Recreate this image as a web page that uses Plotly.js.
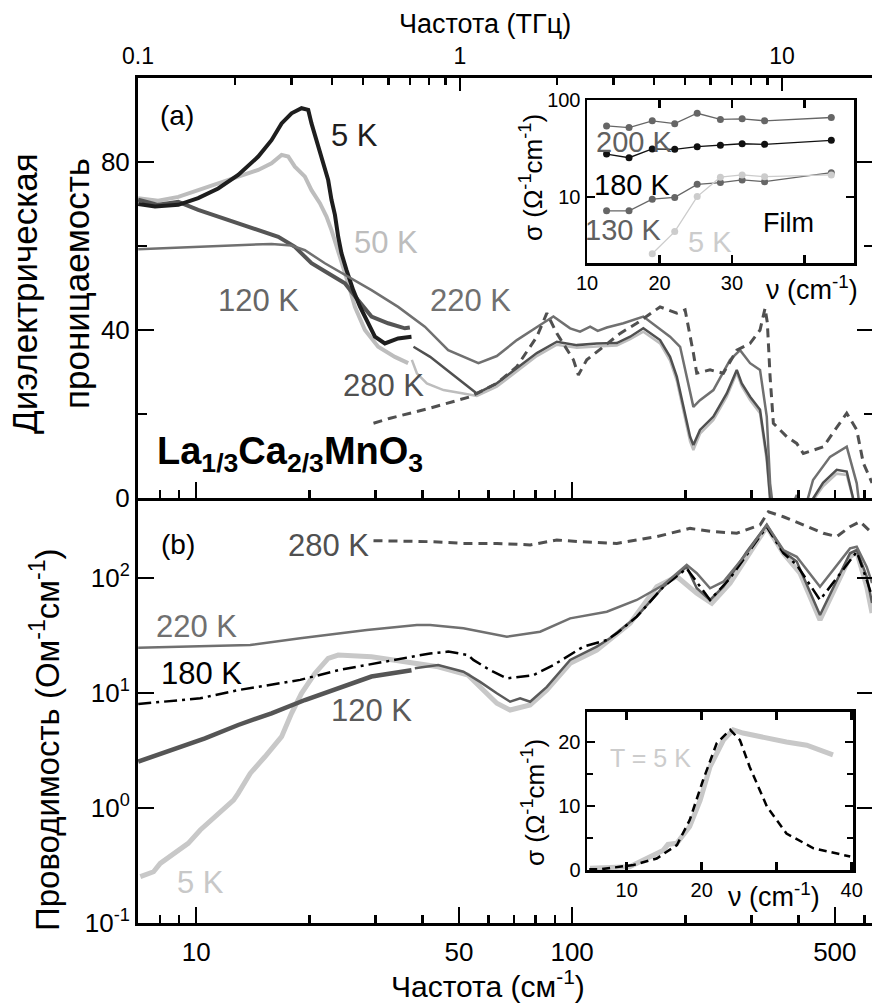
<!DOCTYPE html>
<html><head><meta charset="utf-8">
<script src="https://cdn.plot.ly/plotly-3.0.1.min.js"></script>
<style>html,body{margin:0;padding:0;overflow:hidden;background:#fff}</style>
</head><body><div id="chart" style="width:880px;height:1008px"></div>
<script>
// ---------- DATA ----------
// (a) dielectric permittivity, x in cm^-1
const eps5K_x = [7.01, 7.77, 8.96, 10.12, 11.44, 12.93, 14.62, 15.86, 16.87, 17.93, 19.06, 19.86, 20.26, 21.11, 21.77, 22.44, 22.90, 23.39, 23.86, 24.34, 25.10, 26.16, 27.25, 28.67, 29.88, 31.76, 34.45, 37.38];
const eps5K_y = [70.0, 69.4, 69.8, 71.4, 73.7, 76.9, 81.3, 85.2, 89.2, 91.6, 92.8, 92.4, 89.2, 83.6, 79.7, 75.7, 71.0, 67.4, 62.2, 58.3, 54.3, 49.5, 45.6, 41.6, 38.4, 36.8, 38.0, 38.4];
const eps50K_x = [7.01, 7.92, 8.96, 10.12, 11.44, 12.93, 14.62, 15.86, 16.87, 17.57, 18.30, 19.46, 20.26, 21.33, 22.21, 22.90, 23.86, 24.60, 25.37, 26.43, 28.10, 30.48, 33.77, 36.63];
const eps50K_y = [71.4, 70.8, 71.7, 73.3, 74.9, 76.5, 78.1, 79.7, 81.7, 81.3, 78.9, 76.5, 73.3, 70.2, 67.0, 63.8, 59.0, 55.1, 51.1, 45.5, 40.0, 36.0, 33.6, 32.1];
const eps120K_x = [7.01, 7.92, 8.96, 10.12, 11.44, 12.93, 14.62, 16.53, 18.30, 20.26, 22.44, 24.86, 26.97, 29.26, 32.40, 35.90, 37.01];
const eps120K_y = [71.0, 69.8, 70.5, 68.6, 67.0, 65.4, 63.8, 62.2, 59.8, 55.9, 53.5, 51.1, 47.1, 43.2, 41.6, 40.4, 40.6];
const eps220K_x = [7.01, 10.55, 12.93, 15.86, 17.93, 19.46, 21.99, 24.86, 29.26, 34.45, 40.57, 46.81, 51.39, 56.33, 63.05, 71.28, 82.21, 89.19, 98.79, 105.0, 111.7, 117.0, 123.7, 136.9, 154.7, 168.0, 182.2, 193.8, 201.8, 210.2, 218.9, 237.6, 263.2, 279.8, 297.5, 316.2, 329.5, 336.3, 343.1, 372.4, 395.9, 412.3, 437.5, 485.5, 537.8, 571.8, 583.4, 628];
const eps220K_y = [59.2, 59.8, 60.2, 60.5, 60.1, 59.0, 55.9, 53.1, 49.5, 45.5, 40.8, 35.2, 33.6, 32.1, 33.8, 37.6, 41.2, 43.2, 40.4, 39.6, 40.8, 39.8, 40.6, 41.6, 43.2, 40.8, 38.4, 36.0, 28.9, 21.7, 23.3, 25.7, 32.9, 35.2, 32.1, 30.5, 19.4, 3.5, -3, -5, 0.7, -4, 4.3, 9.8, 12.2, 3.5, -3, -4];
const epsLowIR_x = [37.84, 41.91, 46.44, 51.39, 55.78, 63.05, 71.28, 80.56, 91.06, 102.9, 116.3, 131.5, 142.7, 154.7, 171.4, 182.2, 189.9, 197.7, 206.0, 210.2, 218.9, 237.6, 257.9, 274.2, 282.7, 297.5, 316.2, 329.5, 336.3, 343.1, 404.0, 465.1, 505.8, 537.8, 565.9, 628];
const epsLowIR_y = [36.0, 33.6, 30.5, 27.3, 24.9, 27.3, 30.9, 34.5, 37.2, 36.4, 36.8, 36.9, 38.4, 40.4, 37.6, 33.6, 28.9, 21.7, 14.6, 12.6, 16.2, 19.4, 24.9, 30.5, 27.3, 24.1, 21.0, 9.8, 0, -4, -5, 3.6, 6.7, 6.3, -2, -4];
const epsLightIR_x = [37.47, 38.64, 41.07, 45.48, 51.39, 55.78, 63.05, 71.28, 80.56, 91.06, 102.9, 116.3, 131.5, 142.7, 154.7, 171.4, 182.2, 189.9, 197.7, 206.0, 210.2, 218.9, 237.6, 257.9, 274.2, 282.7, 297.5, 316.2, 329.5, 336.3, 343.1, 404.0, 465.1, 505.8, 537.8, 565.9, 628];
const epsLightIR_y = [32.9, 29.7, 27.3, 25.7, 24.9, 24.3, 26.5, 30.2, 33.8, 36.5, 35.8, 36.1, 36.3, 37.8, 39.6, 36.8, 32.7, 27.9, 20.6, 13.5, 11.4, 15.3, 18.6, 24.1, 29.8, 26.6, 23.3, 20.2, 8.8, -0.5, -4, -5, 2.8, 5.8, 5.5, -2, -4];
const eps280K_x = [29.62, 32.81, 41.91, 53.54, 63.05, 71.28, 80.56, 85.66, 91.06, 100.8, 103.9, 109.4, 121.1, 134.2, 148.6, 171.4, 189.9, 199.8, 210.2, 214.6, 232.8, 252.6, 274.2, 297.5, 316.2, 326.1, 330.7, 336.3, 343.1, 372.4, 395.9, 412.3, 466.0, 537.8, 571.8, 595.4, 628];
const eps280K_y = [17.8, 19.0, 21.4, 24.1, 27.3, 31.3, 38.4, 44.0, 39.2, 32.9, 29.3, 32.9, 36.0, 39.2, 41.6, 45.5, 44.0, 44.8, 34.5, 29.7, 30.5, 29.7, 35.2, 36.8, 40.0, 45.2, 41.7, 28.9, 17.8, 14.6, 13.0, 10.6, 12.2, 20.2, 16.2, 8.3, 3.6];

// (b) conductivity, Ohm^-1 cm^-1
const sig280K_x = [29.62, 41.91, 51.39, 63.05, 77.32, 91.06, 105.0, 131.5, 168.0, 206.0, 237.6, 274.2, 316.2, 332.8, 364.8, 412.3, 466.0, 505.8, 548.8, 583.4, 628];
const sig280K_y = [211, 207, 200, 200, 194, 214, 207, 200, 229, 270, 253, 245, 289, 377, 341, 289, 245, 229, 279, 309, 246];
const sig220K_x = [7.01, 10.25, 13.92, 18.91, 28.44, 38.64, 41.91, 51.39, 67.04, 82.21, 98.79, 123.7, 148.6, 174.9, 201.8, 214.6, 232.8, 252.6, 291.5, 329.5, 364.8, 395.9, 456.6, 548.8, 571.8, 607.9, 628];
const sig220K_y = [24.8, 25.3, 26.1, 29.9, 35.3, 39.0, 39.0, 36.5, 30.9, 34.1, 44.6, 50.9, 64.4, 86.9, 130, 110, 81.4, 92.9, 164, 289, 175, 153, 84.0, 181, 187, 125, 90.5];
const sig180K_x = [7.01, 10.25, 12.93, 18.91, 23.86, 35.90, 41.91, 46.81, 52.89, 54.6, 60.5, 67.04, 78.91, 89.19, 96.8, 107.2, 123.7, 131.5, 148.6, 174.9, 201.8, 232.8, 263.2, 297.5, 329.5, 364.8, 395.9, 456.6, 548.8, 571.8, 607.9, 628];
const sig180K_y = [8.02, 9.0, 10.6, 13.0, 15.8, 20.0, 22.1, 22.9, 21.4, 19.4, 15.8, 13.4, 14.3, 17.5, 20.7, 25.3, 28.9, 33.0, 46.1, 84.0, 121, 64.4, 99.4, 175, 279, 164, 130, 64.4, 143, 169, 96.1, 68.8];
const sig120K_x = [7.01, 8.60, 10.55, 12.93, 15.86, 19.46, 23.86, 29.26, 37.38];
const sig120K_y = [2.53, 3.19, 4.04, 5.27, 6.66, 8.69, 11.0, 13.9, 15.8];
const sig120IR_x = [38.16, 44.02, 51.39, 56.92, 63.05, 68.41, 72.74, 77.32, 85.66, 98.79, 116.3, 126.2, 148.6, 174.9, 201.8, 214.6, 232.8, 252.6, 291.5, 329.5, 364.8, 395.9, 456.6, 548.8, 571.8, 607.9, 628];
const sig120IR_y = [16.4, 17.5, 15.3, 12.5, 9.94, 8.40, 8.99, 8.40, 11.3, 19.4, 25.3, 29.9, 46.1, 84.0, 125, 81.4, 64.4, 84.0, 169, 289, 169, 139, 47.7, 164, 175, 103, 60.6];
const sig5K_x = [7.10, 7.70, 8.02, 8.70, 9.52, 10.25, 11.21, 12.57, 12.93, 13.92, 15.23, 16.87, 17.93, 19.06, 20.69, 22.44, 23.86, 29.26, 35.90, 44.02, 52.89, 63.05, 68.41, 77.32, 85.66, 98.79, 116.3, 142.7, 168.0, 189.9, 214.6, 235.3, 263.2, 297.5, 329.5, 364.8, 404.0, 456.6, 548.8, 571.8, 607.9, 628];
const sig5K_y = [0.253, 0.279, 0.330, 0.404, 0.493, 0.644, 0.840, 1.17, 1.34, 2.0, 2.79, 4.17, 6.66, 9.94, 14.8, 20.0, 21.4, 20.7, 18.7, 16.9, 14.3, 8.14, 7.11, 7.87, 10.6, 18.1, 23.6, 40.4, 84.0, 103, 73.6, 60.3, 89.9, 169, 279, 164, 110, 43.1, 153, 169, 84, 49.6];

// inset (a): film conductivity
const film_nu = [12.7, 15.8, 19.0, 22.1, 25.2, 28.4, 31.4, 34.5, 43.7];
const film200K = [54, 52, 61, 57, 73, 63, 64, 61, 66];
const film180K = [27.7, 25.4, 31.3, 31.0, 33.0, 34.1, 35.4, 34.9, 38.4];
const film130K = [7.2, 7.2, 9.5, 9.9, 13.5, 14.1, 15.0, 14.4, 17.8];
const film5K_nu = [19.0, 22.1, 25.2, 28.4, 31.4, 34.5, 43.7];
const film5K = [2.6, 4.4, 10.1, 16.0, 16.9, 16.2, 16.9];

// inset (b): T = 5 K conductivity and fit
const lin5K_nu = [5.1, 10.4, 14.9, 15.5, 16.7, 18.4, 19.8, 21.1, 22.9, 24.2, 25.5, 28.7, 31.3, 34.0, 35.8, 37.5];
const lin5K_s = [0.27, 0.52, 3.1, 4.0, 4.2, 6.8, 10.9, 16.1, 20.3, 21.9, 21.4, 20.6, 20.0, 19.5, 18.8, 18.0];
const fit_nu = [5.0, 6.4, 10.9, 14.0, 16.7, 18.4, 20.2, 22.0, 23.8, 25.1, 26.4, 28.7, 31.3, 34.9, 39.8];
const fit_s = [0.1, 0.1, 0.78, 1.8, 3.9, 7.8, 14.1, 19.8, 21.9, 20.3, 16.1, 9.9, 5.7, 3.4, 2.1];

// tick labels
const cmMajor = [10, 50, 100, 500];
const cmMajorText = ['10', '50', '100', '500'];
const cmMinor = [7, 8, 9, 20, 30, 40, 60, 70, 80, 90, 200, 300, 400, 600];
const cmMinorTop = [7, 8, 9, 20, 30, 40, 50, 60, 70, 80, 90, 200, 300, 400, 500, 600];
const thzMajor = [0.1, 1, 10];
const thzMajorText = ['0.1', '1', '10'];
const thzMinor = [0.2, 0.3, 0.4, 0.5, 0.6, 0.7, 0.8, 0.9, 2, 3, 4, 5, 6, 7, 8, 9];
const sigTicks = [0.1, 1, 10, 100];
const sigTickText = ['10<sup>-1</sup>', '10<sup>0</sup>', '10<sup>1</sup>', '10<sup>2</sup>'];
const inset1Ticks = [10, 20, 30];
const inset1Minor = [40];
const inset2Ticks = [10, 20, 40];
const inset2Minor = [30];

// ---------- LAYOUT HELPERS ----------
const W = 880, H = 1008, ML = 138, MR = 7, MT = 78, MB = 85;
const PW = W - ML - MR, PH = H - MT - MB;
const fx = p => (p - ML) / PW;
const fy = p => (MT + PH - p) / PH;
const SPLIT = fy(498);
const FONT = 'Liberation Sans, Arial, Helvetica, sans-serif';

const axBase = {showline: true, linecolor: '#000', linewidth: 3, ticks: 'inside', tickcolor: '#000',
  tickwidth: 2.5, showgrid: false, zeroline: false, tickfont: {size: 26, color: '#000', family: FONT}};

function L(x, y, xa, ya, color, width, dash, name) {
  return {x: x, y: y, xaxis: xa, yaxis: ya, mode: 'lines', name: name, hoverinfo: 'skip',
    line: {color: color, width: width, dash: dash || 'solid'}, showlegend: false};
}
function LM(x, y, xa, ya, color, name) {
  return {x: x, y: y, xaxis: xa, yaxis: ya, mode: 'lines+markers', name: name, hoverinfo: 'skip',
    line: {color: color, width: 1.3}, marker: {color: color, size: 7}, showlegend: false};
}

const traces = [
  // panel (a)
  L(eps50K_x, eps50K_y, 'x2', 'y2', '#bdbdbd', 4, 'solid', '50 K'),
  L(epsLightIR_x, epsLightIR_y, 'x2', 'y2', '#bdbdbd', 2.5, 'solid', '50 K IR'),
  L(eps120K_x, eps120K_y, 'x2', 'y2', '#555555', 4, 'solid', '120 K'),
  L(eps5K_x, eps5K_y, 'x2', 'y2', '#1e1e1e', 4, 'solid', '5 K'),
  L(epsLowIR_x, epsLowIR_y, 'x2', 'y2', '#505050', 2.5, 'solid', '5 K IR'),
  L(eps220K_x, eps220K_y, 'x2', 'y2', '#707070', 2.5, 'solid', '220 K'),
  L(eps280K_x, eps280K_y, 'x2', 'y2', '#505050', 3, '9px,6px', '280 K'),
  {x: thzMajor, y: thzMajor.map(() => null), xaxis: 'x3', yaxis: 'y2', mode: 'markers', hoverinfo: 'skip', showlegend: false},
  // panel (b)
  L(sig5K_x, sig5K_y, 'x', 'y', '#c8c8c8', 5, 'solid', '5 K'),
  L(sig120K_x, sig120K_y, 'x', 'y', '#555555', 4.5, 'solid', '120 K'),
  L(sig120IR_x, sig120IR_y, 'x', 'y', '#5a5a5a', 2.5, 'solid', '120 K IR'),
  L(sig180K_x, sig180K_y, 'x', 'y', '#000000', 2.5, '13px,5px,3px,5px', '180 K'),
  L(sig220K_x, sig220K_y, 'x', 'y', '#707070', 2.5, 'solid', '220 K'),
  L(sig280K_x, sig280K_y, 'x', 'y', '#505050', 3, '9px,6px', '280 K'),
  // inset (a)
  LM(film_nu, film200K, 'x4', 'y4', '#666666', '200 K'),
  LM(film_nu, film180K, 'x4', 'y4', '#111111', '180 K'),
  LM(film_nu, film130K, 'x4', 'y4', '#666666', '130 K'),
  LM(film5K_nu, film5K, 'x4', 'y4', '#cccccc', '5 K'),
  // inset (b)
  L(lin5K_nu, lin5K_s, 'x5', 'y5', '#c8c8c8', 5, 'solid', 'T = 5 K'),
  L(fit_nu, fit_s, 'x5', 'y5', '#000000', 2.5, '8px,5px', 'fit')
];

function A(text, x, y, size, color, extra) {
  return Object.assign({text: text, x: fx(x), y: fy(y), xref: 'paper', yref: 'paper', showarrow: false,
    xanchor: 'center', yanchor: 'middle', font: {size: size, color: color, family: FONT}}, extra || {});
}

const annotations = [
  A('Частота (ТГц)', 485, 24, 27, '#000'),
  A('Частота (см<sup>-1</sup>)', 488, 984, 30, '#000'),
  A('Диэлектрическая', 24, 294, 35, '#000', {textangle: -90}),
  A('проницаемость', 76, 284, 35, '#000', {textangle: -90}),
  A('Проводимость (Ом<sup>-1</sup>см<sup>-1</sup>)', 45, 740, 33, '#000', {textangle: -90}),
  A('(a)', 177, 115, 28, '#000'),
  A('(b)', 178, 544, 28, '#000'),
  A('5 K', 354, 135, 31, '#1e1e1e'),
  A('50 K', 386, 242, 31, '#bdbdbd'),
  A('120 K', 258, 300, 31, '#666666'),
  A('220 K', 470, 300, 31, '#707070'),
  A('280 K', 383, 385, 31, '#505050'),
  A('<b>La<sub>1/3</sub>Ca<sub>2/3</sub>MnO<sub>3</sub></b>', 155, 454, 38, '#000', {xanchor: 'left'}),
  A('280 K', 328, 545, 31, '#505050'),
  A('220 K', 196, 626, 31, '#707070'),
  A('180 K', 201, 673, 31, '#000'),
  A('120 K', 371, 710, 31, '#5a5a5a'),
  A('5 K', 200, 882, 31, '#c8c8c8'),
  // inset (a)
  A('200 K', 634, 142, 29, '#606060'),
  A('180 K', 632, 185, 29, '#000'),
  A('130 K', 623, 230, 29, '#606060'),
  A('5 K', 710, 242, 29, '#cccccc'),
  A('Film', 788, 223, 27, '#000'),
  A('σ (Ω<sup>-1</sup>cm<sup>-1</sup>)', 531, 178, 26, '#000', {textangle: -90}),
  A('ν (cm<sup>-1</sup>)', 812, 288, 27, '#000'),
  // inset (b)
  A('T = 5 K', 650, 758, 25, '#cccccc'),
  A('σ (Ω<sup>-1</sup>cm<sup>-1</sup>)', 533, 803, 26, '#000', {textangle: -90}),
  A('ν (cm<sup>-1</sup>)', 774, 895, 27, '#000')
];

const minorOf = (vals, len) => ({tickvals: vals, ticks: 'inside', ticklen: len, tickwidth: 2.5, tickcolor: '#000', showgrid: false});
const smallFont = {size: 20, color: '#000', family: FONT};

const layout = {
  width: W, height: H, margin: {l: ML, r: MR, t: MT, b: MB},
  paper_bgcolor: '#fff', plot_bgcolor: 'rgba(0,0,0,0)', showlegend: false,
  font: {family: FONT, color: '#000'},
  xaxis: Object.assign({}, axBase, {type: 'log', range: [Math.log10(7), 2.8005], domain: [0, 1], anchor: 'y',
    tickmode: 'array', tickvals: cmMajor, ticktext: cmMajorText, ticklen: 16, ticklabelstandoff: 4,
    minor: minorOf(cmMinor, 8)}),
  yaxis: Object.assign({}, axBase, {type: 'log', range: [-1, 2.6957], domain: [0, SPLIT], anchor: 'x',
    tickmode: 'array', tickvals: sigTicks, ticktext: sigTickText, ticklen: 16, mirror: 'ticks'}),
  xaxis2: Object.assign({}, axBase, {type: 'log', range: [Math.log10(7), 2.8005], domain: [0, 1], anchor: 'y2',
    tickmode: 'array', tickvals: [10, 100], showticklabels: false, ticklen: 16,
    minor: minorOf(cmMinorTop, 8)}),
  yaxis2: Object.assign({}, axBase, {range: [0, 100], domain: [SPLIT, 1], anchor: 'x2',
    tickmode: 'array', tickvals: [0, 40, 80], ticktext: ['0', '40', '80'], ticklen: 16, mirror: 'ticks',
    minor: minorOf([20, 60, 100], 9)}),
  xaxis3: Object.assign({}, axBase, {type: 'log', range: [-1, 1.2826], overlaying: 'x2', side: 'top', anchor: 'y2',
    tickmode: 'array', tickvals: thzMajor, ticktext: thzMajorText, ticklen: 13, ticklabelstandoff: 2,
    tickfont: {size: 23, color: '#000', family: FONT}, minor: minorOf(thzMinor, 7)}),
  xaxis4: Object.assign({}, axBase, {range: [10, 46.83], domain: [fx(587), fx(854)], anchor: 'y4',
    linewidth: 2.5, mirror: 'ticks', tickmode: 'array', tickvals: inset1Ticks, ticktext: inset1Ticks.map(String),
    ticklen: 8, tickfont: smallFont, minor: minorOf(inset1Minor, 8)}),
  yaxis4: Object.assign({}, axBase, {type: 'log', range: [0.3196, 2], domain: [fy(263), fy(100)], anchor: 'x4',
    linewidth: 2.5, mirror: 'ticks', tickmode: 'array', tickvals: [10, 100], ticktext: ['10', '100'],
    ticklen: 8, tickfont: smallFont}),
  xaxis5: Object.assign({}, axBase, {range: [4.71, 40.17], domain: [fx(587), fx(853)], anchor: 'y5',
    linewidth: 2.5, mirror: 'ticks', tickmode: 'array', tickvals: inset2Ticks, ticktext: inset2Ticks.map(String),
    ticklen: 8, tickfont: smallFont, minor: minorOf(inset2Minor, 8)}),
  yaxis5: Object.assign({}, axBase, {range: [0, 24.73], domain: [fy(870), fy(711.7)], anchor: 'x5',
    linewidth: 2.5, mirror: 'ticks', tickmode: 'array', tickvals: [0, 10, 20], ticktext: ['0', '10', '20'],
    ticklen: 8, tickfont: smallFont, minor: minorOf([5, 15], 6)}),
  annotations: annotations
};

Plotly.newPlot('chart', traces, layout, {displayModeBar: false, staticPlot: true});
</script>
</body></html>
